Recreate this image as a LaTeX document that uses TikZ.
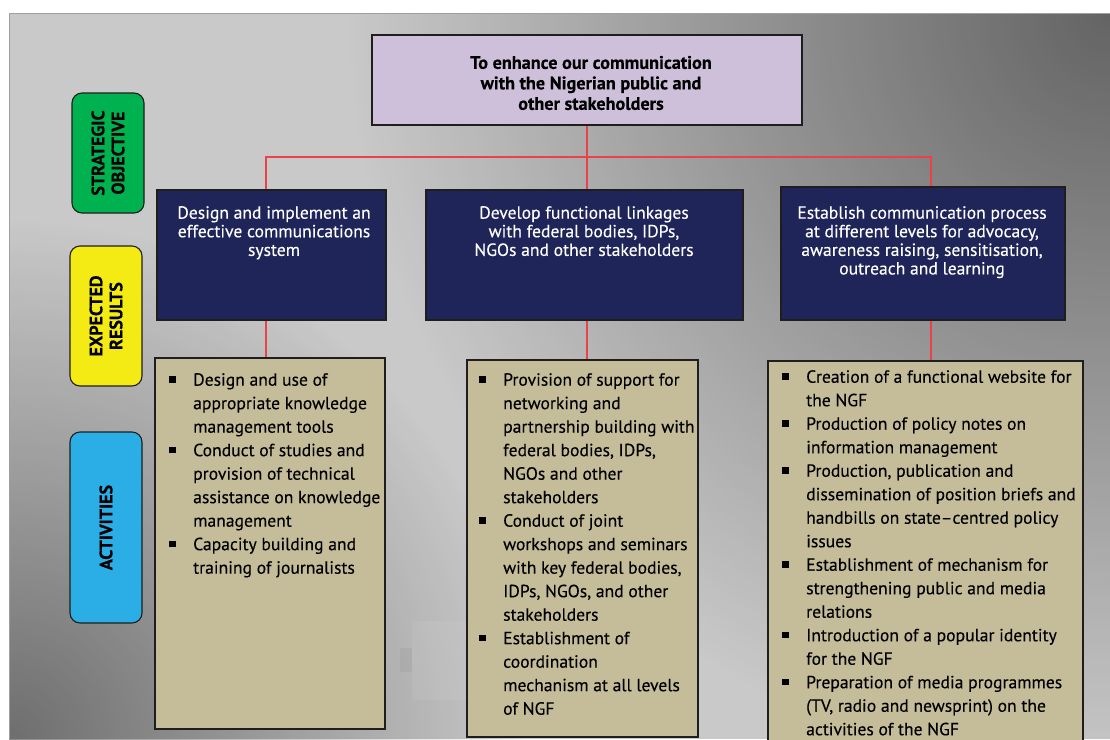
\documentclass[tikz,border=0pt]{standalone}
\usepackage{fontspec}
\setmainfont{PT Sans}[FakeBold=0.25]
\usetikzlibrary{fadings}

\definecolor{panelgray}{HTML}{C9C9C9}
\definecolor{goalfill}{HTML}{CEC0DA}
\definecolor{resfill}{HTML}{1F2459}
\definecolor{actfill}{HTML}{C5BD99}
\definecolor{objgreen}{HTML}{00B14F}
\definecolor{resyellow}{HTML}{F5EB14}
\definecolor{actcyan}{HTML}{2AAEE5}
\definecolor{linkred}{HTML}{EB4148}
\definecolor{edgedark}{HTML}{1E1E1E}

\tikzfading[name=cornerfade, inner color=transparent!0, outer color=transparent!100]

% bullet square and continuation indent for the activity lists
\newcommand\sqb{\makebox[24pt][l]{\rule[2.8pt]{6.8pt}{6.8pt}}}
\newcommand\lpad{\hspace*{24pt}}

\begin{document}
\begin{tikzpicture}[x=1pt,y=-1pt,
  box/.style={draw=edgedark, line width=1.3pt, inner sep=0pt},
  goalbox/.style={box, fill=goalfill},
  resbox/.style={box, fill=resfill},
  actbox/.style={box, fill=actfill},
  sidebox/.style={draw=edgedark, line width=1.1pt, rounded corners=10pt, inner sep=0pt,
    rotate=90, align=center, font=\bfseries\fontsize{18}{20}\selectfont},
  goaltext/.style={align=center, inner sep=0pt, font=\bfseries\fontsize{18.2}{20.5}\selectfont},
  restext/.style={align=center, inner sep=0pt, text=white, font=\fontsize{17.6}{18.6}\selectfont},
  acttext/.style={align=left, inner sep=0pt, anchor=north west, font=\fontsize{17.6}{23.5}\selectfont},
  link/.style={draw=linkred, line width=1.4pt}]

\useasboundingbox (0,0) rectangle (1110,739);
\fill[white] (0,0) rectangle (1110,739);

% grey backdrop, darker towards the top-right and bottom-left corners
\begin{scope}
  \clip (9,13) rectangle (1110,739);
  \fill[panelgray] (9,13) rectangle (1110,739);
  \fill[black, fill opacity=0.5, path fading=cornerfade] (1110,13) circle (760);
  \fill[black, fill opacity=0.45, path fading=cornerfade] (9,739) circle (520);
  \fill[white, fill opacity=0.06] (412,621) rectangle (467,700);
  \fill[black, fill opacity=0.04] (400,648) rectangle (412,672);
\end{scope}
\draw[gray!75, line width=0.8pt] (9,739) -- (9,13) -- (1110,13);

% row labels
\node[sidebox, fill=objgreen, minimum width=120pt, minimum height=72pt] (s1) at (108,153) {STRATEGIC\\OBJECTIVE};
\node[sidebox, fill=resyellow, minimum width=140pt, minimum height=72pt] (s2) at (106,316) {EXPECTED\\RESULTS};
\node[sidebox, fill=actcyan, minimum width=191pt, minimum height=72pt] (s3) at (106,527.5) {ACTIVITIES};

% strategic objective
\node[goalbox, minimum width=430pt, minimum height=90pt] (top) at (587,80) {};
\node[goaltext] (topt) at (591,83) {To enhance our communication\\with the Nigerian public and\\other stakeholders};

% expected results
\node[resbox, minimum width=229pt, minimum height=130pt] (r1) at (271.5,255) {};
\node[resbox, minimum width=317pt, minimum height=130pt] (r2) at (584.5,255) {};
\node[resbox, minimum width=284pt, minimum height=133pt] (r3) at (923,253.5) {};
\node[restext, anchor=north] (r1t) at (274,206) {Design and implement an\\effective communications\\system};
\node[restext, anchor=north] (r2t) at (584,206) {Develop functional linkages\\with federal bodies, IDPs,\\NGOs and other stakeholders};
\node[restext, anchor=north] (r3t) at (922,206) {Establish communication process\\at different levels for advocacy,\\awareness raising, sensitisation,\\outreach and learning};

% activities
\node[actbox, minimum width=230pt, minimum height=371pt] (a1) at (270,543.5) {};
\node[actbox, minimum width=231pt, minimum height=377pt] (a2) at (582.5,548.5) {};
\node[actbox, minimum width=315pt, minimum height=399pt] (a3) at (925.5,560.5) {};

\node[acttext] (a1t) at (169,373) {%
\sqb Design and use of\\
\lpad appropriate knowledge\\
\lpad management tools\\
\sqb Conduct of studies and\\
\lpad provision of technical\\
\lpad assistance on knowledge\\
\lpad management\\
\sqb Capacity building and\\
\lpad training of journalists};

\node[acttext] (a2t) at (479,373) {%
\sqb Provision of support for\\
\lpad networking and\\
\lpad partnership building with\\
\lpad federal bodies, IDPs,\\
\lpad NGOs and other\\
\lpad stakeholders\\
\sqb Conduct of joint\\
\lpad workshops and seminars\\
\lpad with key federal bodies,\\
\lpad IDPs, NGOs, and other\\
\lpad stakeholders\\
\sqb Establishment of\\
\lpad coordination\\
\lpad mechanism at all levels\\
\lpad of NGF};

\node[acttext] (a3t) at (782,370) {%
\sqb Creation of a functional website for\\
\lpad the NGF\\
\sqb Production of policy notes on\\
\lpad information management\\
\sqb Production, publication and\\
\lpad dissemination of position briefs and\\
\lpad handbills on state–centred policy\\
\lpad issues\\
\sqb Establishment of mechanism for\\
\lpad strengthening public and media\\
\lpad relations\\
\sqb Introduction of a popular identity\\
\lpad for the NGF\\
\sqb Preparation of media programmes\\
\lpad (TV, radio and newsprint) on the\\
\lpad activities of the NGF};

% red connectors
\coordinate (busL) at (266,157);
\coordinate (busR) at (931,157);
\draw[link] (busL |- r1.north) -- (busL) -- (busR) -- (busR |- r3.north);
\draw[link] (top.south) -- (top.south |- r2.north);
\draw[link] (busL |- r1.south) -- (busL |- a1.north);
\draw[link] (top.south |- r2.south) -- (top.south |- a2.north);
\draw[link] (busR |- r3.south) -- (busR |- a3.north);

\end{tikzpicture}
\end{document}
